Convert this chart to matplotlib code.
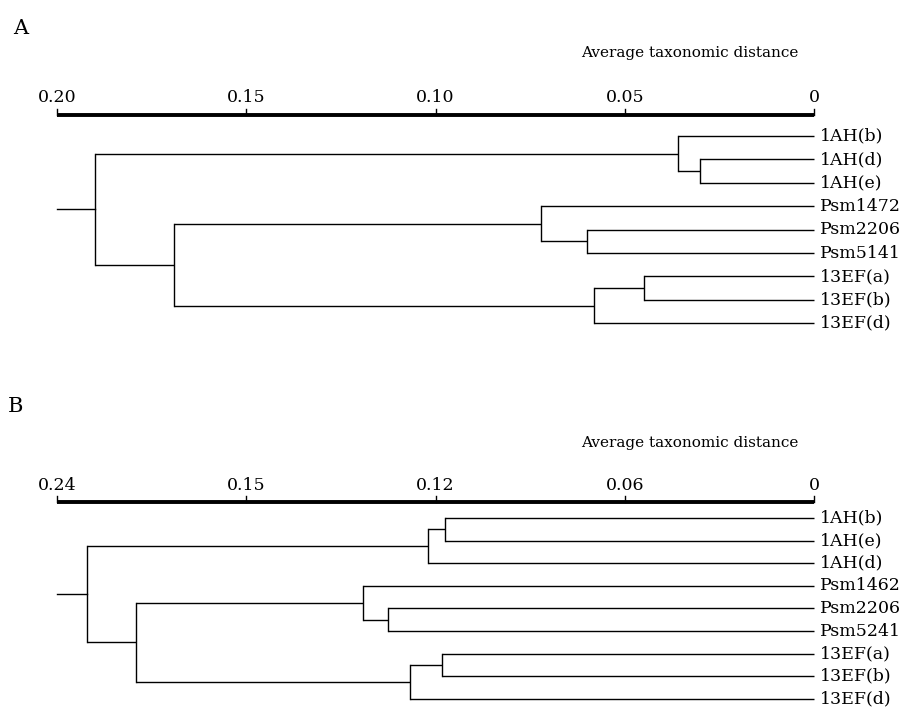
import numpy as np
import matplotlib.pyplot as plt

# ---- panel A data ----
leaves_a = ['1AH(b)', '1AH(d)', '1AH(e)', 'Psm1472', 'Psm2206', 'Psm5141',
            '13EF(a)', '13EF(b)', '13EF(d)']
# merges like a linkage table: new cluster ids start after the leaves
left_a  = [1, 0, 4, 3, 6, 13, 12, 10]
right_a = [2, 9, 5, 11, 7, 8, 14, 15]
dist_a  = [0.030, 0.036, 0.060, 0.072, 0.045, 0.058, 0.169, 0.190]
root_a  = 0.20
ticks_a = [0.20, 0.15, 0.10, 0.05, 0.0]
ticklabels_a = ['0.20', '0.15', '0.10', '0.05', '0']

# ---- panel B data ----
leaves_b = ['1AH(b)', '1AH(e)', '1AH(d)', 'Psm1462', 'Psm2206', 'Psm5241',
            '13EF(a)', '13EF(b)', '13EF(d)']
left_b  = [0, 9, 4, 3, 6, 13, 12, 10]
right_b = [1, 2, 5, 11, 7, 8, 14, 15]
dist_b  = [0.117, 0.1225, 0.135, 0.143, 0.118, 0.128, 0.215, 0.2305]
root_b  = 0.24
ticks_b = [0.24, 0.18, 0.12, 0.06, 0.0]
ticklabels_b = ['0.24', '0.15', '0.12', '0.06', '0']

plt.rcParams['font.family'] = 'DejaVu Serif'

W, H = 909, 718
X0, X1 = 57, 814   # pixel columns of the scale ends


def draw_panel(ax, letter, leaves, left, right, dist, root, ticks, ticklabels,
               rows, leaf0, step, axis_px, tick_px, title_px, letter_px, letter_x):
    # rows = (top, bottom) pixel rows of this axes
    to_y = lambda px: (px - leaf0) / step
    scale = (X1 - X0) / root
    ax.set_xlim(root + X0 / scale, -(W - X1) / scale)
    ax.set_ylim(to_y(rows[1]), to_y(rows[0]))
    ax.axis('off')

    n = len(leaves)
    ypos = list(range(n))
    xpos = [0.0] * n
    for l, r, d in zip(left, right, dist):
        for c in (l, r):
            ax.plot([xpos[c], d], [ypos[c], ypos[c]], color='black', lw=1.0,
                    solid_capstyle='butt')
        ax.plot([d, d], [ypos[l], ypos[r]], color='black', lw=1.0)
        ypos.append((ypos[l] + ypos[r]) / 2)
        xpos.append(d)
    ax.plot([xpos[-1], root], [ypos[-1], ypos[-1]], color='black', lw=1.0)

    for i, name in enumerate(leaves):
        ax.text(-6 / scale, i, name, ha='left', va='center', fontsize=12.5)

    # thick scale bar with small ticks
    ya = to_y(axis_px)
    ax.plot([root, 0], [ya, ya], color='black', lw=2.8, solid_capstyle='butt')
    for t, lab in zip(ticks, ticklabels):
        ax.plot([t, t], [ya, to_y(axis_px - 6)], color='black', lw=1.0)
        ax.text(t, to_y(tick_px), lab, ha='center', va='center', fontsize=12.5)

    ax.text(root - (690 - X0) / scale, to_y(title_px), 'Average taxonomic distance',
            ha='center', va='center', fontsize=11)
    ax.text(root - (letter_x - X0) / scale, to_y(letter_px), letter,
            ha='left', va='center', fontsize=15)


fig = plt.figure(figsize=(W / 100, H / 100), dpi=100)
ax_a = fig.add_axes([0, 1 - 359 / H, 1, 359 / H])
ax_b = fig.add_axes([0, 0, 1, 359 / H])

draw_panel(ax_a, 'A', leaves_a, left_a, right_a, dist_a, root_a, ticks_a, ticklabels_a,
           rows=(0, 359), leaf0=136, step=23.4, axis_px=115, tick_px=97,
           title_px=53, letter_px=28, letter_x=13)
draw_panel(ax_b, 'B', leaves_b, left_b, right_b, dist_b, root_b, ticks_b, ticklabels_b,
           rows=(359, 718), leaf0=518, step=22.6, axis_px=502, tick_px=485,
           title_px=443, letter_px=407, letter_x=8)

plt.savefig('out.png', dpi=100)
